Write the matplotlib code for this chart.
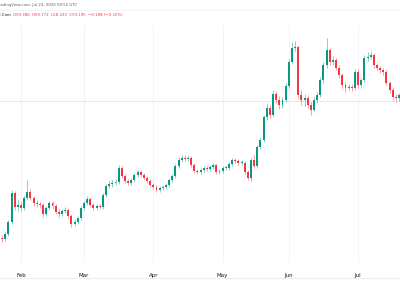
import numpy as np
import pandas as pd
import matplotlib
matplotlib.use('Agg')
import matplotlib.pyplot as plt
from matplotlib.lines import Line2D

# 일봉 데이터 (차트에서 눈으로 읽은 값)
dates = pd.bdate_range('2026-01-22', '2026-07-22')

opens = [45.3, 45.0, 44.9, 45.4, 46.6, 49.5, 48.1, 48.3, 48.0, 49.0,
         49.6, 49.0, 48.5, 48.4, 48.3, 47.4, 48.0, 48.5, 48.2, 47.6,
         47.4, 47.7, 47.8, 47.2, 46.4, 46.6, 47.0, 48.0, 48.5, 48.9,
         48.3, 48.0, 48.2, 48.1, 49.3, 50.2, 50.4, 50.5, 50.6, 52.0,
         51.2, 50.7, 50.5, 50.8, 51.3, 51.6, 51.3, 51.0, 50.7, 50.3,
         50.1, 49.8, 50.0, 50.1, 50.3, 50.8, 51.2, 52.2, 52.8, 53.0,
         52.9, 53.0, 52.3, 51.7, 51.6, 51.8, 52.0, 51.9, 52.1, 52.3,
         51.6, 51.7, 52.0, 52.0, 52.4, 52.8, 52.7, 52.5, 52.5, 51.6,
         51.0, 52.8, 52.2, 54.1, 54.8, 57.1, 58.0, 57.3, 59.4, 58.8,
         58.3, 58.8, 60.2, 62.6, 64.0, 64.1, 59.3, 58.8, 59.0, 58.3,
         57.8, 58.8, 59.3, 60.8, 62.3, 63.8, 62.6, 62.8, 62.0, 61.3,
         60.3, 60.0, 60.1, 60.0, 61.6, 60.3, 60.8, 63.0, 63.1, 63.3,
         62.3, 62.0, 61.8, 61.6, 60.5, 59.8, 59.1, 59.0, 59.3, 59.386]
highs = [45.5, 45.3, 45.6, 46.8, 49.8, 49.7, 48.8, 48.6, 49.2, 50.8,
         49.9, 49.2, 48.8, 48.6, 48.5, 48.2, 48.7, 48.7, 48.4, 47.9,
         47.9, 48.1, 48.0, 47.4, 46.9, 47.2, 48.2, 48.7, 49.2, 49.1,
         48.5, 48.4, 48.4, 49.5, 50.4, 50.7, 50.8, 50.9, 52.3, 52.2,
         51.4, 50.9, 51.0, 51.5, 51.8, 51.8, 51.5, 51.2, 50.9, 50.5,
         50.3, 50.2, 50.3, 50.5, 51.0, 51.4, 52.4, 53.1, 53.3, 53.3,
         53.3, 53.2, 52.5, 51.9, 52.0, 52.2, 52.2, 52.3, 52.5, 52.4,
         51.9, 52.2, 52.3, 52.6, 53.0, 53.0, 52.9, 52.8, 52.7, 51.8,
         53.0, 53.3, 54.3, 55.1, 57.3, 58.5, 58.3, 59.8, 59.7, 59.2,
         59.1, 60.5, 62.9, 64.6, 64.7, 64.3, 59.8, 59.4, 59.3, 58.6,
         59.1, 59.6, 61.1, 62.6, 65.0, 64.0, 63.2, 63.0, 62.3, 61.5,
         60.6, 60.4, 60.4, 61.9, 61.9, 61.0, 63.3, 63.6, 63.7, 63.5,
         62.5, 62.2, 62.0, 61.8, 60.7, 60.1, 59.4, 59.5, 59.7, 59.772]
lows = [44.7, 44.6, 44.7, 45.2, 46.4, 47.8, 47.7, 47.7, 47.8, 48.8,
        48.8, 48.2, 48.1, 48.0, 47.1, 47.2, 47.8, 47.9, 47.4, 47.1,
        47.2, 47.5, 47.0, 46.1, 46.2, 46.4, 46.8, 47.8, 48.3, 48.1,
        47.8, 47.8, 47.9, 47.9, 49.1, 50.0, 50.1, 50.3, 50.4, 51.0,
        50.5, 50.3, 50.3, 50.6, 51.1, 51.1, 50.8, 50.5, 50.1, 49.9,
        49.6, 49.6, 49.8, 49.9, 50.1, 50.6, 51.0, 52.0, 52.6, 52.7,
        52.7, 52.1, 51.5, 51.4, 51.4, 51.6, 51.7, 51.7, 51.9, 51.4,
        51.4, 51.5, 51.8, 51.8, 52.2, 52.5, 52.3, 52.3, 51.4, 50.8,
        50.7, 52.0, 52.0, 53.9, 54.6, 56.8, 57.0, 57.1, 58.5, 57.9,
        58.0, 58.6, 60.0, 62.4, 63.7, 59.0, 58.3, 58.2, 58.0, 57.3,
        57.6, 58.5, 59.1, 60.5, 62.0, 62.3, 62.3, 61.8, 61.0, 60.0,
        59.6, 59.8, 59.7, 59.8, 60.0, 60.0, 60.6, 62.7, 62.9, 62.0,
        61.8, 61.5, 61.3, 60.3, 59.5, 58.8, 58.6, 58.7, 58.8, 58.323]
closes = [45.0, 44.9, 45.4, 46.6, 49.5, 48.1, 48.3, 48.0, 49.0, 49.6,
          49.0, 48.5, 48.4, 48.3, 47.4, 48.0, 48.5, 48.2, 47.6, 47.4,
          47.7, 47.8, 47.2, 46.4, 46.6, 47.0, 48.0, 48.5, 48.9, 48.3,
          48.0, 48.2, 48.1, 49.3, 50.2, 50.4, 50.5, 50.6, 52.0, 51.2,
          50.7, 50.5, 50.8, 51.3, 51.6, 51.3, 51.0, 50.7, 50.3, 50.1,
          49.8, 50.0, 50.1, 50.3, 50.8, 51.2, 52.2, 52.8, 53.0, 52.9,
          53.0, 52.3, 51.7, 51.6, 51.8, 52.0, 51.9, 52.1, 52.3, 51.6,
          51.7, 52.0, 52.0, 52.4, 52.8, 52.7, 52.5, 52.5, 51.6, 51.0,
          52.8, 52.2, 54.1, 54.8, 57.1, 58.0, 57.3, 59.4, 58.8, 58.3,
          58.8, 60.2, 62.6, 64.0, 64.1, 59.3, 58.8, 59.0, 58.3, 57.8,
          58.8, 59.3, 60.8, 62.3, 63.8, 62.6, 62.8, 62.0, 61.3, 60.3,
          60.0, 60.1, 60.0, 61.6, 60.3, 60.8, 63.0, 63.1, 63.3, 62.3,
          62.0, 61.8, 61.6, 60.5, 59.8, 59.1, 59.0, 59.3, 59.4, 59.195]

month_labels = ['Feb', 'Mar', 'Apr', 'May', 'Jun', 'Jul']

up_color = '#089981'
down_color = '#F23645'
text_color = '#131722'

fig = plt.figure(figsize=(4, 3), dpi=100)
ax = fig.add_axes([0, 0.127, 1, 0.79])

idx = np.arange(len(closes))
o = np.array(opens)
h = np.array(highs)
l = np.array(lows)
c = np.array(closes)
colors = np.where(c >= o, up_color, down_color)

# 심지 + 몸통
ax.vlines(idx, l, h, colors=colors, linewidth=0.6, alpha=0.55, zorder=2)
body_lo = np.minimum(o, c)
body_h = np.maximum(np.abs(c - o), 0.05)
ax.bar(idx, body_h, bottom=body_lo, width=0.62, color=colors, linewidth=0, zorder=3)

# 월 첫 거래일 위치
month_idx = []
for m in range(2, 8):
    month_idx.append(int(np.argmax(dates.month == m)))

for mi in month_idx:
    ax.axvline(mi, color='#f0f3fa', linewidth=0.7, zorder=0)
ax.axhline(58.7, color='#e6e8ee', linewidth=0.7, zorder=0)

ax.set_xlim(0.33, 127.3)
ax.set_ylim(42.6, 66.3)
ax.set_xticks(month_idx)
ax.set_xticklabels(month_labels, fontsize=4.0, color=text_color)
ax.tick_params(axis='x', length=0, pad=8)
ax.set_yticks([])
for s in ax.spines.values():
    s.set_visible(False)

# 하단 구분선 / 상단 헤더
fig.add_artist(Line2D([0, 1], [1 - 278 / 300, 1 - 278 / 300], color='#eceef2', linewidth=0.8))
fig.add_artist(Line2D([0, 1], [1 - 9.5 / 300, 1 - 9.5 / 300], color='#f2f3f6', linewidth=0.6))

fig.text(-0.008, 1 - 5 / 300, 'TradingView.com, Jul 23, 2026 09:52 UTC', fontsize=2.8,
         color='#5d606b', va='center', ha='left')
fig.text(10.5 / 400, 1 - 15 / 300, 'Silver Spot, 1D, Capital.Com', fontsize=2.8,
         color=text_color, va='center', ha='right')
fig.text(13 / 400, 1 - 15 / 300,
         'O59.386  H59.772  L58.323  C59.195  \u22120.188 (\u22120.32%)',
         fontsize=2.8, color=down_color, va='center', ha='left')

fig.savefig('out.png', dpi=100, facecolor='white')
